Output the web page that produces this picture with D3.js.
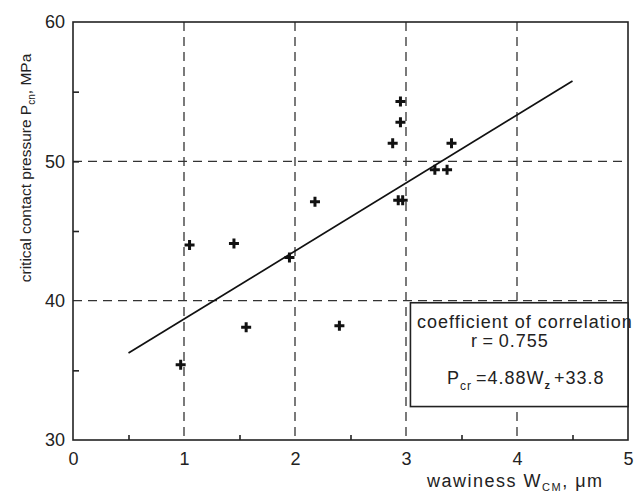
<!DOCTYPE html>
<meta charset="utf-8">
<style>
body { margin: 0; background: #fff; }
text { font-family: "Liberation Sans", Arial, sans-serif; fill: #222; }
.grid line { stroke: #333; stroke-width: 1.3; stroke-dasharray: 9,6; }
.axis path, .axis line { stroke: #222; stroke-width: 1.6; }
.axis text { font-size: 18px; }
.note { font-size: 18px; letter-spacing: 1px; }
</style>
<svg width="635" height="492"></svg>
<script src="https://d3js.org/d3.v7.min.js"></script>
<script>

// readings
var wav = [0.97, 1.05, 1.45, 1.56, 1.95, 2.18, 2.40, 2.88, 2.95, 2.95, 2.93, 2.97, 3.26, 3.37, 3.41];
var pcr = [35.4, 44.0, 44.1, 38.1, 43.1, 47.1, 38.2, 51.3, 54.3, 52.8, 47.2, 47.2, 49.4, 49.4, 51.3];
var xTicks = [0, 1, 2, 3, 4, 5];
var yTicks = [30, 40, 50, 60];
var xGrid = [1, 2, 3, 4];
var yGrid = [40, 50];
var fitSlope = 4.88, fitIntercept = 33.8, fitRange = [0.5, 4.5];

var svg = d3.select("svg");

var x = d3.scaleLinear().domain([0, 5]).range([73, 628]);
var y = d3.scaleLinear().domain([30, 60]).range([440, 22]);

// dashed grid
var grid = svg.append("g").attr("class", "grid");
grid.selectAll("line.v")
  .data(xGrid)
  .enter().append("line")
    .attr("class", "v")
    .attr("x1", function(d) { return x(d); })
    .attr("x2", function(d) { return x(d); })
    .attr("y1", y(60))
    .attr("y2", y(30));
grid.selectAll("line.h")
  .data(yGrid)
  .enter().append("line")
    .attr("class", "h")
    .attr("x1", x(0))
    .attr("x2", x(5))
    .attr("y1", function(d) { return y(d); })
    .attr("y2", function(d) { return y(d); });

// frame
svg.append("rect")
    .attr("x", x(0)).attr("y", y(60))
    .attr("width", x(5) - x(0)).attr("height", y(30) - y(60))
    .attr("fill", "none").attr("stroke", "#222").attr("stroke-width", 1.6);

// axes
svg.append("g")
    .attr("class", "axis")
    .attr("transform", "translate(0," + y(30) + ")")
    .call(d3.axisBottom(x).tickValues(xTicks).tickSize(0).tickPadding(12).tickFormat(d3.format("d")))
    .call(function(g) { g.select(".domain").remove(); });
svg.append("g")
    .attr("class", "axis")
    .attr("transform", "translate(0," + y(30) + ")")
    .call(d3.axisBottom(x).tickValues([0.5, 1.5, 2.5, 3.5, 4.5]).tickSize(-5).tickFormat(""))
    .call(function(g) { g.select(".domain").remove(); });

svg.append("g")
    .attr("class", "axis")
    .attr("transform", "translate(" + x(0) + ",0)")
    .call(d3.axisLeft(y).tickValues(yTicks).tickSize(0).tickPadding(8).tickFormat(d3.format("d")))
    .call(function(g) { g.select(".domain").remove(); });
svg.append("g")
    .attr("class", "axis")
    .attr("transform", "translate(" + x(0) + ",0)")
    .call(d3.axisLeft(y).tickValues([35, 45, 50, 55]).tickSize(-6).tickFormat(""))
    .call(function(g) { g.select(".domain").remove(); });

// regression line
var line = d3.line()
    .x(function(d) { return x(d); })
    .y(function(d) { return y(fitSlope * d + fitIntercept); });
svg.append("path")
    .datum(fitRange)
    .attr("d", line)
    .attr("fill", "none")
    .attr("stroke", "#111")
    .attr("stroke-width", 1.7);

// points
svg.append("g")
  .selectAll("path")
  .data(wav)
  .enter().append("path")
    .attr("transform", function(d, i) { return "translate(" + x(d) + "," + y(pcr[i]) + ")"; })
    .attr("d", "M-5,0H5M0,-5V5")
    .attr("stroke", "#111")
    .attr("stroke-width", 3);

// annotation box
var bx0 = x(3.04), bx1 = x(5), by0 = y(39.85), by1 = y(32.4);
svg.append("rect")
    .attr("x", bx0).attr("y", by0)
    .attr("width", bx1 - bx0).attr("height", by1 - by0)
    .attr("fill", "#fff").attr("stroke", "#222").attr("stroke-width", 1.6);

svg.append("text")
    .attr("class", "note")
    .attr("x", 417).attr("y", 328)
    .text("coefficient of correlation");
svg.append("text")
    .attr("class", "note")
    .attr("x", 471).attr("y", 347)
    .text("r\u2009=\u20090.755");

var f = svg.append("text")
    .attr("class", "note")
    .attr("x", 447).attr("y", 384);
f.append("tspan").text("P");
f.append("tspan").attr("dy", 6).style("font-size", "12px").text("cr");
f.append("tspan").attr("dy", -6).attr("dx", 4).text("=4.88W");
f.append("tspan").attr("dy", 5).style("font-size", "11px").style("font-weight", "bold").text("z");
f.append("tspan").attr("dy", -5).attr("dx", 3).text("+33.8");

// axis titles
var xt = svg.append("text")
    .attr("class", "note")
    .attr("x", 427).attr("y", 487)
    .style("letter-spacing", "1.5px");
xt.append("tspan").text("wawiness W");
xt.append("tspan").attr("dy", 4).style("font-size", "11px").text("CM");
xt.append("tspan").attr("dy", -4).text(",  \u03bcm");

var yt = svg.append("text")
    .attr("transform", "translate(31,168) rotate(-90)")
    .attr("text-anchor", "middle")
    .style("font-size", "15.5px");
yt.append("tspan").text("critical contact pressure P");
yt.append("tspan").attr("dy", 4).style("font-size", "10px").text("cn");
yt.append("tspan").attr("dy", -4).text(", MPa");

</script>
